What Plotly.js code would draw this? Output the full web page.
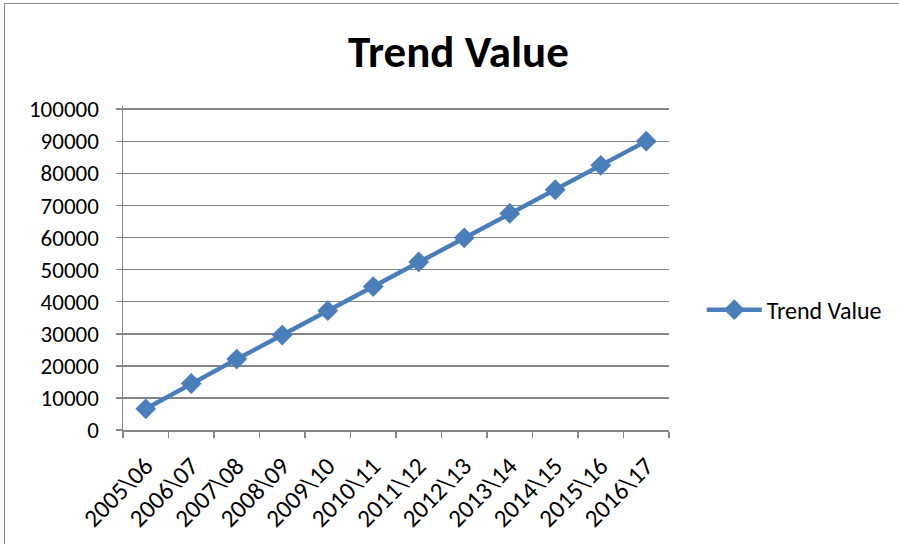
<!DOCTYPE html>
<html>
<head>
<meta charset="utf-8">
<script src="https://cdn.plot.ly/plotly-3.0.1.min.js"></script>
<style>
html,body{margin:0;padding:0;background:#fff;overflow:hidden;}
#wrap{position:relative;width:899px;height:544px;}
#chart{position:absolute;left:0;top:0;width:899px;height:544px;}
#frame{position:absolute;left:4px;top:3px;width:920px;height:560px;border-left:1.5px solid #8c8c8c;border-top:1.5px solid #8c8c8c;pointer-events:none;}
</style>
</head>
<body>
<div id="wrap"><div id="chart"></div><div id="frame"></div></div>
<script>
const categories = ["2005\\06","2006\\07","2007\\08","2008\\09","2009\\10","2010\\11","2011\\12","2012\\13","2013\\14","2014\\15","2015\\16","2016\\17"];
const trendValues = [6600, 14500, 22100, 29600, 37200, 44700, 52400, 59900, 67500, 74900, 82500, 90050];
const yTickValues = [0,10000,20000,30000,40000,50000,60000,70000,80000,90000,100000];
const seriesName = "Trend Value";
const chartTitle = "Trend Value";

const FONT = "Carlito, Calibri, Lato, sans-serif";
const trace = {
  x: categories,
  y: trendValues,
  type: "scatter",
  mode: "lines+markers",
  name: seriesName,
  line: {color: "#4a7ebb", width: 4.5},
  marker: {symbol: "diamond", size: 16, color: "#4a7ebb"}
};
const layout = {
  width: 899, height: 544,
  margin: {l: 123, r: 230, t: 106, b: 114},
  paper_bgcolor: "#fff", plot_bgcolor: "#fff",
  title: {text: chartTitle, font: {family: FONT, size: 45, color: "#000", weight: "bold"}, x: 0.51, xanchor: "center", y: 0.905, yanchor: "middle"},
  font: {family: FONT, size: 23, color: "#000"},
  showlegend: true,
  legend: {x: 1.06, xanchor: "left", y: 0.37, yanchor: "middle", itemwidth: 55, font: {family: FONT, size: 24, color: "#000"}, bgcolor: "rgba(0,0,0,0)"},
  xaxis: {
    type: "category", range: [-0.5, 11.5], tickson: "boundaries",
    showgrid: false, showline: true, linecolor: "#868686", linewidth: 1.5,
    ticks: "outside", ticklen: 6, tickcolor: "#868686", tickwidth: 1.5,
    tickangle: -45, ticklabelstandoff: 10, tickfont: {family: FONT, size: 25, color: "#000"}, zeroline: false
  },
  yaxis: {
    range: [0, 101000], tickvals: yTickValues, ticktext: yTickValues.map(String),
    showgrid: true, gridcolor: "#868686", gridwidth: 1.5,
    showline: true, linecolor: "#868686", linewidth: 1.5,
    ticks: "outside", ticklen: 6, tickcolor: "#868686", tickwidth: 1.5,
    ticklabelstandoff: 12, tickfont: {family: FONT, size: 23, color: "#000"}, zeroline: false
  }
};
Plotly.newPlot("chart", [trace], layout, {displayModeBar: false, staticPlot: true});
</script>
</body>
</html>
